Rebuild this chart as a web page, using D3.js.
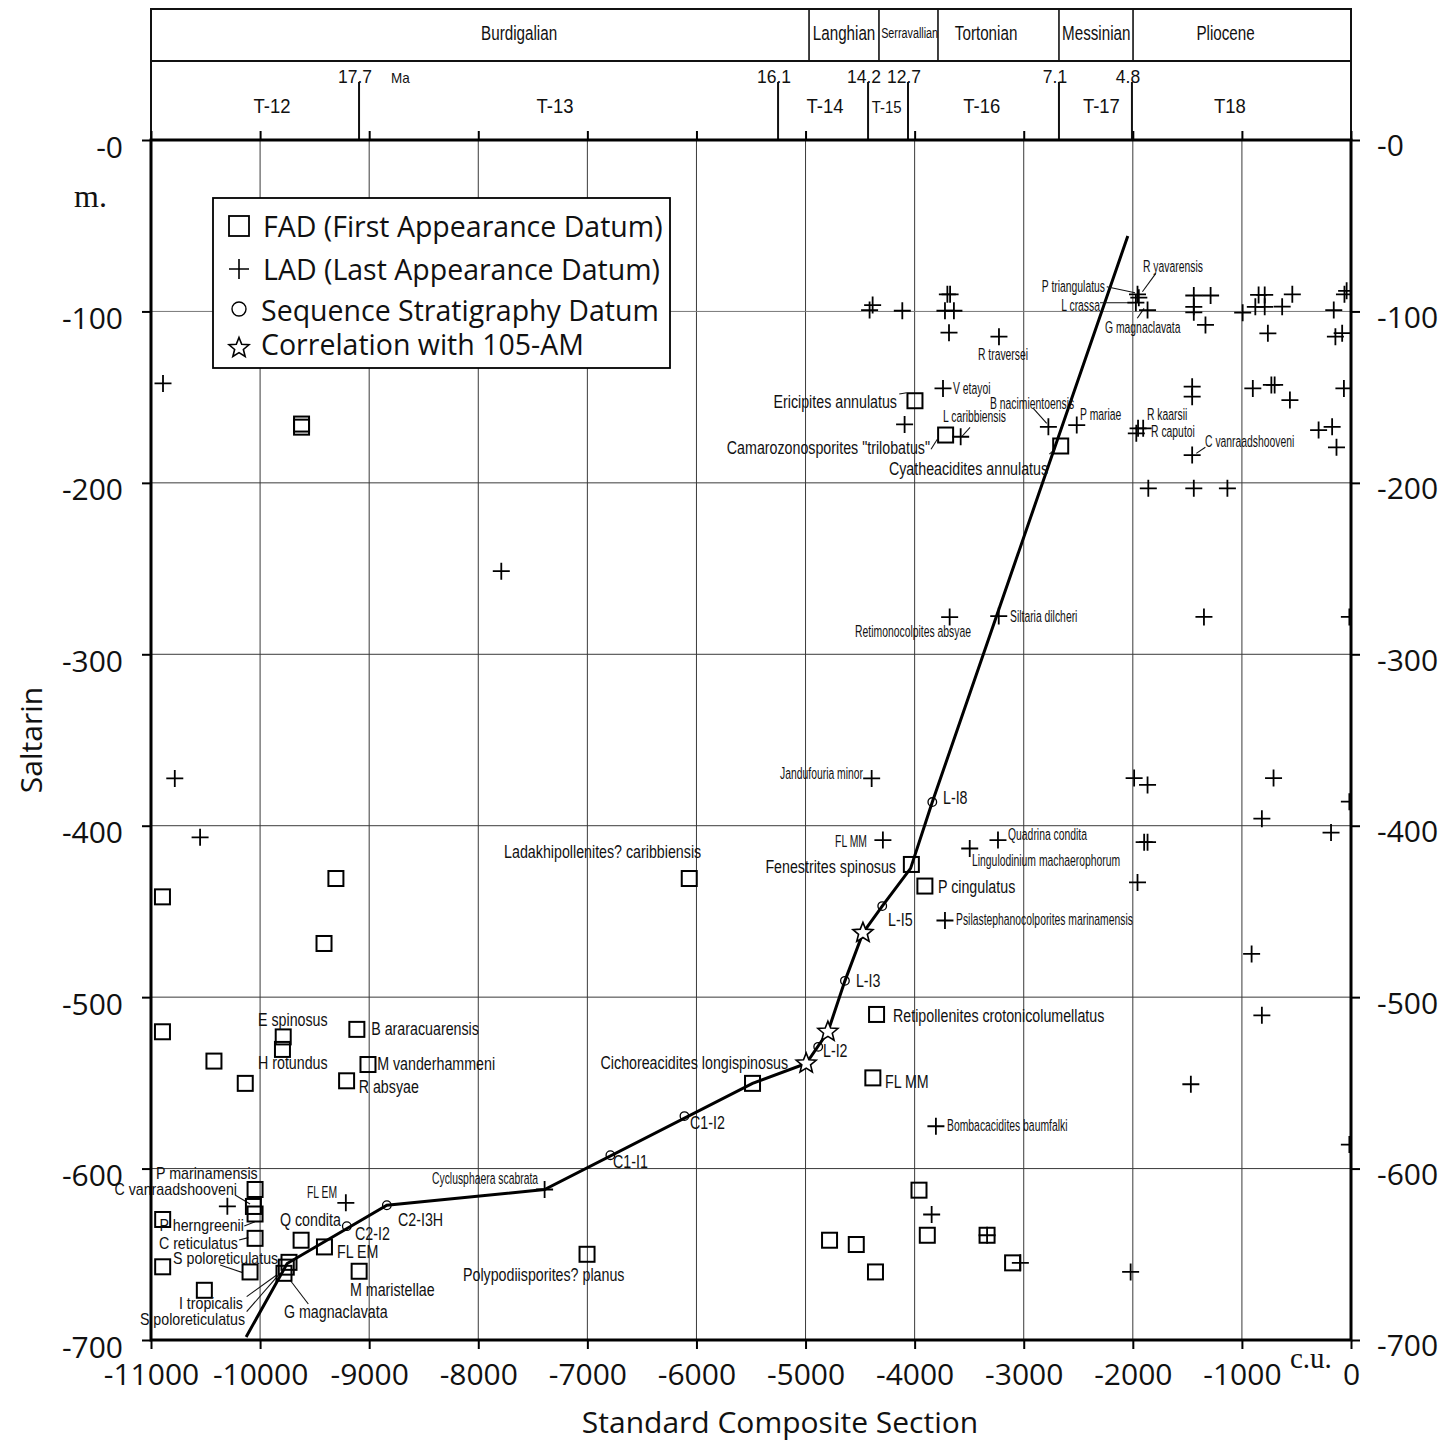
<!DOCTYPE html>
<html><head><meta charset="utf-8">
<script src="https://cdn.jsdelivr.net/npm/d3@7"></script>
<style>body{margin:0;background:#fff}svg{display:block}</style>
</head><body>
<svg id="c" width="1444" height="1443"></svg>
<script>
// ---------------- DATA ----------------
const xTicks = d3.range(-11000, 1, 1000);
const yTicks = d3.range(0, -701, -100);

const stageNames = ["Burdigalian","Langhian","Serravallian","Tortonian","Messinian","Pliocene"];
const stageBounds = [-4968,-4327,-3786,-2677,-1998];
const stageLabelX = [-7626,-4647,-4046,-3345,-2335,-1150];

const zoneAges = ["17.7","16.1","14.2","12.7","7.1","4.8"];
const zoneBounds = [-9093,-5252,-4427,-4061,-2677,-2008];
const zoneNames = ["T-12","T-13","T-14","T-15","T-16","T-17","T18"];
const zoneLabelX = [-9890,-7297,-4821,-4257,-3385,-2288,-1110];

const fadPoints = [
[-9620,-165.7],[-9620,-167.5],
[-10895,-441.5],[-9305,-430.8],[-9414,-468.7],[-6066,-430.8],
[-10895,-520.2],[-9788,-523.2],[-9795,-530.5],[-10423,-537.3],[-10136,-550.3],[-9113,-518.8],[-9011,-539.3],[-9207,-548.8],[-5486,-550.3],
[-10046,-612.2],[-10061,-622.1],[-10046,-626.5],[-10046,-640.7],[-10893,-629.7],[-10893,-657.3],[-10092,-660.3],[-10511,-671],
[-9735,-654.7],[-9760,-657.5],[-9781,-661.1],
[-9624,-641.8],[-9410,-645.7],[-9092,-659.9],[-7003,-650],
[-4030,-422.6],[-3906,-435.2],[-4349,-510.1],[-4383,-547.1],
[-3960,-612.6],[-3884,-638.9],[-4780,-641.8],[-4535,-644.3],[-4359,-660.3],[-3336,-638.9],[-3102,-655],
[-3997,-152.1],[-3716,-172.1],[-2661,-178.5]
];

const ladPoints = [
[-10890,-142],[-7789,-251.5],[-10782,-372.4],[-10550,-406.8],[-10300,-622],[-9214,-620],[-7392,-612.2],
[-4394,-372.4],[-4291,-408.4],[-3722,-455.3],[-3495,-413.3],[-3236,-408.4],[-3805,-575.3],[-3844,-626.8],[-3336,-638.9],[-3031,-655],[-2020,-660.3],
[-3679,-278.3],[-3229,-277.7],[-1348,-278.2],
[-1988,-372.2],[-1865,-376.2],[-710,-372.2],[-817,-395.9],[-183,-404],[-1896,-409.6],[-1865,-409.6],[-1957,-433.1],[-911,-474.8],[-817,-510.6],[-1468,-550.8],
[-15,-278.2],[-15,-386],[-15,-586],
[-4413,-99.2],[-4385,-96.3],[-4113,-99.6],[-3700,-90],[-3675,-90],[-3722,-99.6],[-3640,-99.6],[-3685,-112.4],[-3227,-114.7],[-3740,-144.9],[-4092,-165.9],[-3578,-173.1],[-2774,-167.3],[-2514,-166.3],
[-1957,-90],[-1945,-92],[-1972,-94.9],[-1865,-99.2],
[-1441,-90.7],[-1287,-90.7],[-1441,-97.3],[-1441,-100.5],[-1334,-107.9],[-993,-100.7],[-847,-90.4],[-791,-90.4],[-877,-97.3],[-791,-97.3],[-631,-97.2],[-538,-90],[-762,-112.8],[-158,-99.2],[-60,-90],[-40,-88],[-143,-114.7],[-81,-112.7],
[-1456,-143.9],[-1456,-149.7],[-900,-144.9],[-730,-142.9],[-700,-142.9],[-560,-151.7],[-65,-144.9],
[-1952,-168.2],[-1905,-168.2],[-1968,-171.1],[-1456,-183.8],[-297,-169.2],[-173,-167.3],[-133,-179.3],
[-1858,-203.2],[-1441,-203.2],[-1133,-203.2]
];

const ssdPoints = [[-9205,-633.6],[-8838,-621.4],[-6789,-592.2],[-6110,-569.4],[-4884,-529],[-4639,-490.5],[-4297,-446.9],[-3838,-386.2]];
const corrStars = [[-4994,-538.7],[-4795,-520.2],[-4474,-462.5]];
const corrLine = [[-10128,-698.2],[-9752,-655.4],[-8838,-621.4],[-7392,-612.2],[-5486,-550.3],[-4994,-538.7],[-4795,-520.2],[-4639,-490.5],[-4474,-462.5],[-4297,-446.9],[-4037,-424.9],[-3838,-386.2],[-2046,-56]];

// label text, x, y (data units of the anchor), anchor
const bigLabels = [
["Ladakhipollenites? caribbiensis",-6860,-418.8,"middle"],
["E spinosus",-10019,-516.8,"start"],
["H rotundus",-10019,-541.9,"start"],
["B araracuarensis",-8981,-522.1,"start"],
["M vanderhammeni",-8927,-542.5,"start"],
["R absyae",-9096,-555.9,"start"],
["Cichoreacidites longispinosus",-6879,-541.9,"start"],
["G magnaclavata",-9781,-687.2,"start"],
["Q condita",-9818,-633.5,"start"],
["FL EM",-9295,-652.2,"start"],
["C2-I2",-9130,-641.7,"start"],
["C2-I3H",-8736,-633.5,"start"],
["M maristellae",-9176,-674.3,"start"],
["C1-I1",-6765,-599.7,"start"],
["Polypodiisporites? planus",-8140,-665.6,"start"],
["C1-I2",-6059,-576.9,"start"],
["L-I2",-4840,-534.9,"start"],
["L-I3",-4538,-494.1,"start"],
["L-I5",-4244,-458.5,"start"],
["L-I8",-3740,-387.3,"start"],
["Fenestrites spinosus",-4171,-427.6,"end"],
["P cingulatus",-3786,-439.2,"start"],
["Retipollenites crotonicolumellatus",-4198,-514.5,"start"],
["FL MM",-4272,-553,"start"],
["Ericipites annulatus",-4162,-156.3,"end"],
["Camarozonosporites \"trilobatus\"",-3859,-183.2,"end"],
["Cyatheacidites annulatus",-2777,-195.4,"end"]
];

// crowded bottom-left cluster
const clusterLabels = [
["P marinamensis",-10954,-606.2,"start"],
["C vanraadshooveni",-10212,-615.4,"end"],
["P herngreenii",-10148,-636.5,"end"],
["C reticulatus",-10203,-646.9,"end"],
["S poloreticulatus",-10798,-655.6,"start"],
["I tropicalis",-10157,-682,"end"],
["S poloreticulatus",-10138,-691,"end"]
];

const smallLabels = [
["Jandufouria minor",-4473,-372.5,"end"],
["FL MM",-4437,-412.4,"end"],
["Quadrina condita",-3144,-408.3,"start"],
["Lingulodinium machaerophorum",-3474,-423.5,"start"],
["Psilastephanocolporites marinamensis",-3621,-457.9,"start"],
["Bombacacidites baumfalki",-3703,-578.1,"start"],
["Retimonocolpites absyae",-4015,-289.9,"middle"],
["Siltaria dilcheri",-3126,-281.2,"start"],
["Cyclusphaera scabrata",-7938,-609,"middle"],
["FL EM",-9570,-617.2,"start"],
["R traversei",-3190,-128.6,"middle"],
["V etayoi",-3648,-148.2,"start"],
["B nacimientoensis",-3309,-156.9,"start"],
["L caribbiensis",-3740,-164.5,"start"],
["P mariae",-2484,-163.6,"start"],
["P triangulatus",-2255,-88.7,"end"],
["L crassa",-2301,-99.5,"end"],
["G magnaclavata",-2255,-112.6,"start"],
["R yavarensis",-1907,-77,"start"],
["R kaarsii",-1870,-163.6,"start"],
["R caputoi",-1833,-173.25,"start"],
["C vanraadshooveni",-1338,-179.1,"start"]
];

const leaders = [
[-4141,-148.2,-4073,-147.4],[-3850,-180.4,-3792,-174.6],[-3569,-173.1,-3492,-167.6],
[-2912,-156.5,-2789,-165.3],[-2765,-183.2,-2713,-180.4],[-2239,-85.6,-1980,-89.1],
[-2301,-94.9,-1996,-94.9],[-1959,-104,-1897,-98.2],[-1789,-77.8,-1912,-88.5],
[-1418,-182.8,-1335,-179.2],[-10230,-615.4,-10092,-620.7],[-10145,-633.5,-10047,-631],
[-10193,-641.7,-10108,-640.3],[-10367,-656.3,-10159,-660.7],[-10123,-674.7,-9848,-662.1],
[-10123,-683.5,-9818,-661.1],[-9726,-665,-9558,-679]
];

const legendItems = ["FAD (First Appearance Datum)","LAD (Last Appearance Datum)","Sequence Stratigraphy Datum","Correlation with 105-AM"];

// ---------------- DRAW ----------------
const svg = d3.select("#c");
svg.append("rect").attr("width",1444).attr("height",1443).attr("fill","#fff");
const x = d3.scaleLinear().domain([-11000,0]).range([151,1351]);
const y = d3.scaleLinear().domain([0,-700]).range([140,1340]);
const SANS = "'Open Sans', 'Noto Sans', sans-serif";
const NARROW = "'Liberation Sans', Arial, sans-serif";
const SERIF = "'Liberation Serif', 'Times New Roman', serif";

svg.append("defs").append("clipPath").attr("id","plot")
  .append("rect").attr("x",151).attr("y",140).attr("width",1200).attr("height",1200);

// grid
const grid = svg.append("g").attr("stroke","#3a3a3a").attr("stroke-width",1);
grid.selectAll("line.v").data(xTicks.filter(v=>v>-11000&&v<0)).join("line")
  .attr("x1",d=>x(d)).attr("x2",d=>x(d)).attr("y1",y(0)).attr("y2",y(-700));
grid.selectAll("line.h").data(yTicks.filter(v=>v<0&&v>-700)).join("line")
  .attr("y1",d=>y(d)).attr("y2",d=>y(d)).attr("x1",x(-11000)).attr("x2",x(0))
  .attr("stroke",d=>d===-100?"#777":"#3a3a3a");

// header band
const hd = svg.append("g").attr("stroke","#111").attr("fill","none");
hd.append("rect").attr("x",x(-11000)).attr("y",9).attr("width",x(0)-x(-11000)).attr("height",131).attr("stroke-width",2);
hd.append("line").attr("x1",x(-11000)).attr("x2",x(0)).attr("y1",61).attr("y2",61).attr("stroke-width",2);
hd.selectAll("line.s").data(stageBounds).join("line")
  .attr("x1",d=>x(d)).attr("x2",d=>x(d)).attr("y1",9).attr("y2",61).attr("stroke-width",1.6);
hd.selectAll("line.z").data(zoneBounds).join("line")
  .attr("x1",d=>x(d)).attr("x2",d=>x(d)).attr("y1",82).attr("y2",140).attr("stroke-width",2);

function lab(g, text, px, py, anchor, size, sx, family){
  g.append("text").attr("transform",`translate(${px},${py}) scale(${sx},1)`)
   .attr("text-anchor",anchor).style("font-size",size+"px").style("font-family",family)
   .attr("fill","#111").text(text);
}
const ht = svg.append("g");
stageNames.forEach((n,i)=>{
  const small = n==="Serravallian";
  lab(ht, n, x(stageLabelX[i]), small?38:40, "middle", small?15:19.5, small?0.72:0.78, NARROW);
});
zoneNames.forEach((n,i)=>{
  const small = n==="T-15";
  lab(ht, n, x(zoneLabelX[i]), 113, "middle", small?17:21, 0.88, NARROW);
});
zoneAges.forEach((a,i)=>{
  lab(ht, a, x(zoneBounds[i])-4, 83, "middle", 17.5, 1, NARROW);
});
lab(ht, "Ma", 391, 83, "start", 15, 0.9, NARROW);

// correlation line + marks (clipped)
const pg = svg.append("g").attr("clip-path","url(#plot)");
pg.append("path").datum(corrLine)
  .attr("d", d3.line().x(d=>x(d[0])).y(d=>y(d[1])))
  .attr("fill","none").attr("stroke","#000").attr("stroke-width",3);

pg.selectAll("line.ld").data(leaders).join("line")
  .attr("x1",d=>x(d[0])).attr("y1",d=>y(d[1])).attr("x2",d=>x(d[2])).attr("y2",d=>y(d[3]))
  .attr("stroke","#111").attr("stroke-width",1.1);

const SQ = 15, CR = 8.5;
pg.selectAll("rect.fad").data(fadPoints).join("rect")
  .attr("x",d=>x(d[0])-SQ/2).attr("y",d=>y(d[1])-SQ/2).attr("width",SQ).attr("height",SQ)
  .attr("fill","none").attr("stroke","#000").attr("stroke-width",2);
pg.selectAll("path.lad").data(ladPoints).join("path")
  .attr("d",d=>`M${x(d[0])-CR},${y(d[1])}H${x(d[0])+CR}M${x(d[0])},${y(d[1])-CR}V${y(d[1])+CR}`)
  .attr("stroke","#000").attr("stroke-width",1.8).attr("fill","none");
pg.selectAll("circle.ssd").data(ssdPoints).join("circle")
  .attr("cx",d=>x(d[0])).attr("cy",d=>y(d[1])).attr("r",4.3)
  .attr("fill","none").attr("stroke","#000").attr("stroke-width",1.3);

function starPath(R,r){
  const p=[];
  for(let i=0;i<10;i++){const a=-Math.PI/2+i*Math.PI/5;const rr=i%2?r:R;p.push([rr*Math.cos(a),rr*Math.sin(a)]);}
  return "M"+p.map(q=>q[0].toFixed(2)+","+q[1].toFixed(2)).join("L")+"Z";
}
pg.selectAll("path.star").data(corrStars).join("path")
  .attr("d",starPath(10.5,4.6)).attr("transform",d=>`translate(${x(d[0])},${y(d[1])})`)
  .attr("fill","#fff").attr("stroke","#000").attr("stroke-width",1.6);

// labels
const lg = svg.append("g");
bigLabels.forEach(d=>lab(lg, d[0], x(d[1]), y(d[2]), d[3], 18.5, 0.77, NARROW));
clusterLabels.forEach(d=>lab(lg, d[0], x(d[1]), y(d[2]), d[3], 16, 0.89, NARROW));
smallLabels.forEach(d=>lab(lg, d[0], x(d[1]), y(d[2]), d[3], 17, 0.61, NARROW));

// axes
function styleAxis(g){
  g.select(".domain").remove();
  g.selectAll(".tick line").attr("stroke","#000").attr("stroke-width",2);
  g.selectAll(".tick text").style("font-family",SANS).style("font-size","30px").attr("fill","#111");
}
const yFmt = d => d===0 ? "-0" : String(d);
const xFmt = d => String(d);
const axL = svg.append("g").attr("transform","translate(151,0)")
  .call(d3.axisLeft(y).tickValues(yTicks).tickFormat(yFmt).tickSize(9).tickPadding(19));
styleAxis(axL); axL.selectAll(".tick text").attr("dy","0.57em");
const axR = svg.append("g").attr("transform","translate(1351,0)")
  .call(d3.axisRight(y).tickValues(yTicks).tickFormat(yFmt).tickSize(9).tickPadding(17));
styleAxis(axR); axR.selectAll(".tick text").attr("dy","0.53em");
const axB = svg.append("g").attr("transform","translate(0,1340)")
  .call(d3.axisBottom(x).tickValues(xTicks).tickFormat(xFmt).tickSize(9));
styleAxis(axB); axB.selectAll(".tick text").attr("dy",null).attr("y",45);
const axT = svg.append("g").attr("transform","translate(0,140)")
  .call(d3.axisTop(x).tickValues(xTicks).tickFormat("").tickSize(9));
styleAxis(axT);

// frame
svg.append("rect").attr("x",151).attr("y",140).attr("width",1200).attr("height",1200)
  .attr("fill","none").attr("stroke","#000").attr("stroke-width",3);

// unit labels & titles
svg.append("text").attr("x",74).attr("y",207).style("font-family",SERIF).style("font-size","32px").attr("fill","#111").text("m.");
svg.append("text").attr("x",1290).attr("y",1368).style("font-family",SERIF).style("font-size","29px").attr("fill","#111").text("c.u.");
svg.append("text").attr("transform","translate(42,740) rotate(-90)").attr("text-anchor","middle")
  .style("font-family",SANS).style("font-size","30px").attr("fill","#111").text("Saltarin");
svg.append("text").attr("x",780).attr("y",1433).attr("text-anchor","middle")
  .style("font-family",SANS).style("font-size","30px").attr("fill","#111").text("Standard Composite Section");

// legend
const leg = svg.append("g");
leg.append("rect").attr("x",213).attr("y",198).attr("width",457).attr("height",170)
  .attr("fill","#fff").attr("stroke","#000").attr("stroke-width",1.8);
const legY = [237,280,321,355], legX=[263,263,261,261], symY=[226,269,309,348];
legendItems.forEach((t,i)=>{
  leg.append("text").attr("x",legX[i]).attr("y",legY[i]).style("font-family",SANS)
    .style("font-size","28.5px").attr("fill","#111").text(t);
});
leg.append("rect").attr("x",229).attr("y",symY[0]-10).attr("width",20).attr("height",20)
  .attr("fill","none").attr("stroke","#000").attr("stroke-width",1.8);
leg.append("path").attr("d",`M229,${symY[1]}H249M239,${symY[1]-10}V${symY[1]+10}`).attr("stroke","#000").attr("stroke-width",1.6);
leg.append("circle").attr("cx",239).attr("cy",symY[2]).attr("r",7).attr("fill","none").attr("stroke","#000").attr("stroke-width",1.4);
leg.append("path").attr("d",starPath(10.5,4.6)).attr("transform",`translate(239,${symY[3]})`)
  .attr("fill","#fff").attr("stroke","#000").attr("stroke-width",1.6);
</script>
</body></html>
